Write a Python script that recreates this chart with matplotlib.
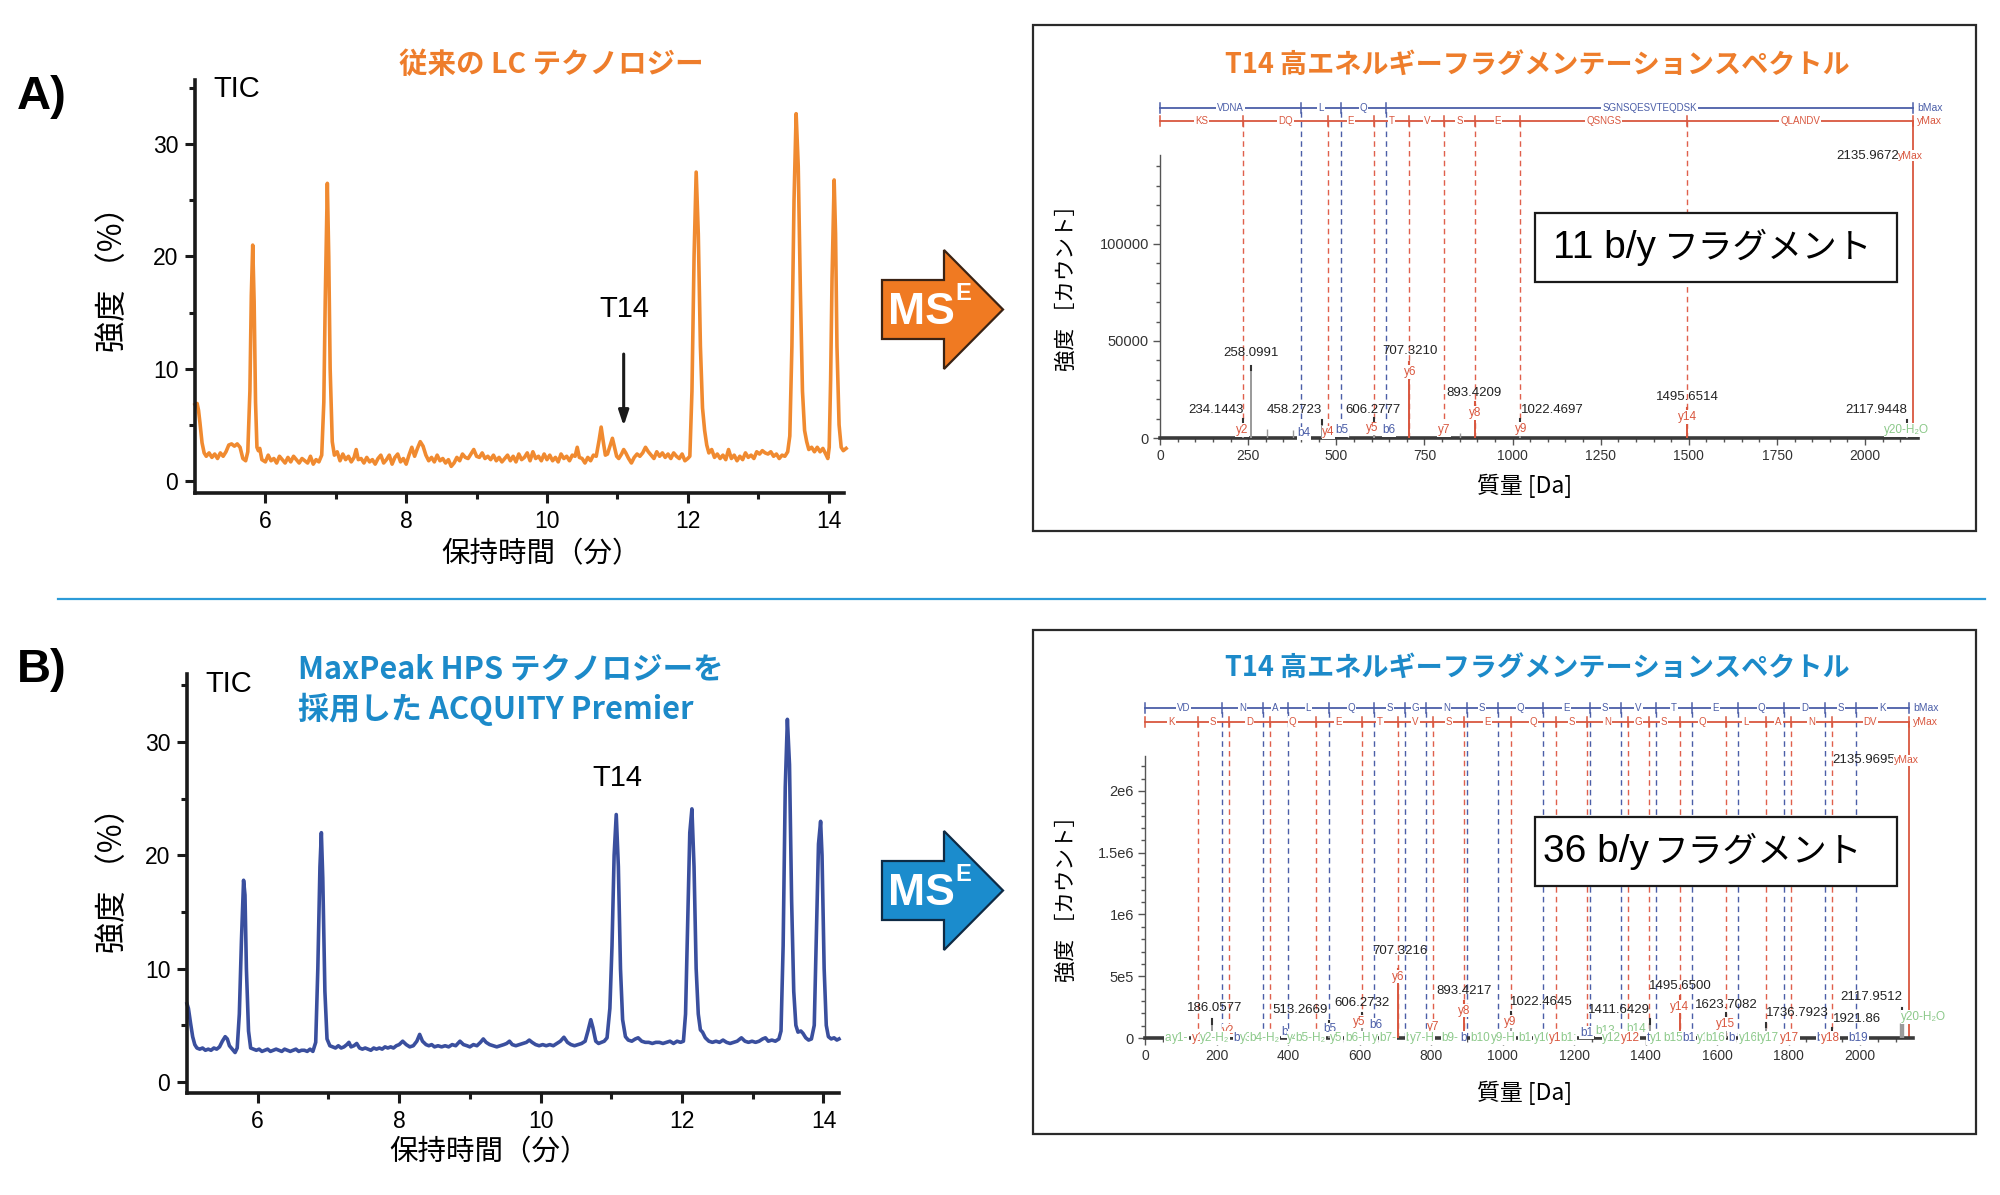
import matplotlib
matplotlib.use("Agg")
import matplotlib.pyplot as plt
from matplotlib.patches import Polygon, Rectangle
from matplotlib.lines import Line2D
from matplotlib.ticker import FixedLocator

SANS = 'Liberation Sans'
JP = 'Noto Sans CJK JP'
plt.rcParams['font.family'] = [SANS, JP, 'DejaVu Sans']

# ---------------- data: chromatograms (time [min], intensity [%]) ----------------
tA = [5.00, 5.03, 5.05, 5.07, 5.10, 5.13, 5.16, 5.20, 5.24, 5.28, 5.32, 5.36, 5.40, 5.44, 5.48, 5.52,
      5.56, 5.60, 5.64, 5.68, 5.72, 5.75, 5.78, 5.80, 5.82, 5.84, 5.86, 5.88, 5.90, 5.92, 5.95, 6.00,
      6.04, 6.08, 6.12, 6.16, 6.20, 6.24, 6.28, 6.32, 6.36, 6.40, 6.44, 6.48, 6.52, 6.56, 6.60, 6.64,
      6.68, 6.72, 6.76, 6.80, 6.83, 6.85, 6.88, 6.90, 6.92, 6.95, 6.98, 7.02, 7.06, 7.10, 7.14, 7.18,
      7.22, 7.26, 7.29, 7.32, 7.36, 7.40, 7.44, 7.48, 7.52, 7.56, 7.60, 7.64, 7.68, 7.72, 7.76, 7.80,
      7.84, 7.88, 7.92, 7.96, 8.00, 8.04, 8.08, 8.12, 8.16, 8.20, 8.24, 8.28, 8.32, 8.36, 8.40, 8.44,
      8.48, 8.52, 8.56, 8.60, 8.64, 8.68, 8.72, 8.76, 8.80, 8.84, 8.88, 8.92, 8.96, 9.00, 9.04, 9.08,
      9.12, 9.16, 9.20, 9.24, 9.28, 9.32, 9.36, 9.40, 9.44, 9.48, 9.52, 9.56, 9.60, 9.64, 9.68, 9.72,
      9.76, 9.80, 9.84, 9.88, 9.92, 9.96, 10.00, 10.04, 10.08, 10.12, 10.16, 10.20, 10.24, 10.28, 10.32, 10.36,
      10.40, 10.43, 10.46, 10.50, 10.54, 10.58, 10.62, 10.66, 10.70, 10.74, 10.77, 10.80, 10.83, 10.86, 10.90, 10.93,
      10.96, 10.99, 11.02, 11.06, 11.09, 11.12, 11.16, 11.20, 11.24, 11.28, 11.32, 11.36, 11.40, 11.44, 11.48, 11.52,
      11.56, 11.60, 11.64, 11.68, 11.72, 11.76, 11.80, 11.84, 11.88, 11.92, 11.96, 12.00, 12.03, 12.06, 12.09, 12.12,
      12.15, 12.18, 12.21, 12.24, 12.27, 12.30, 12.34, 12.38, 12.42, 12.46, 12.50, 12.54, 12.58, 12.62, 12.66, 12.70,
      12.74, 12.78, 12.82, 12.86, 12.90, 12.94, 12.98, 13.02, 13.06, 13.10, 13.14, 13.18, 13.22, 13.26, 13.30, 13.34,
      13.38, 13.42, 13.45, 13.48, 13.51, 13.54, 13.57, 13.60, 13.63, 13.66, 13.69, 13.72, 13.76, 13.80, 13.84, 13.88,
      13.92, 13.96, 13.99, 14.01, 14.03, 14.05, 14.08, 14.10, 14.12, 14.15, 14.18, 14.21, 14.25]
iA = [6.8, 6.9, 6.3, 5.2, 3.4, 2.5, 2.2, 2.5, 2.1, 2.4, 2.0, 2.5, 2.2, 2.6, 3.2, 3.3,
      3.1, 3.3, 3.0, 2.0, 1.8, 2.6, 8.0, 16.5, 21.0, 16.0, 7.0, 3.0, 2.7, 2.9, 1.9, 1.7,
      2.3, 1.8, 2.0, 1.6, 2.2, 1.9, 1.6, 2.1, 1.7, 2.2, 1.9, 1.6, 2.0, 1.8, 1.6, 2.2,
      1.5, 1.9, 1.7, 2.3, 7.0, 16.0, 26.5, 20.0, 10.0, 3.5, 2.3, 2.6, 1.8, 2.4, 1.9, 2.2,
      1.7, 2.1, 2.8, 1.9, 2.0, 1.6, 2.1, 1.7, 1.9, 1.5, 2.0, 2.3, 1.6, 1.9, 2.3, 1.5,
      2.1, 2.4, 1.7, 2.0, 1.5, 2.3, 3.0, 2.2, 2.9, 3.5, 3.1, 2.3, 1.8, 2.1, 1.7, 2.3,
      1.8, 2.0, 1.6, 1.9, 1.3, 1.6, 2.1, 1.8, 2.4, 2.1, 2.0, 2.4, 2.8, 2.2, 2.1, 2.5,
      2.0, 2.2, 1.9, 2.3, 1.8, 2.1, 1.7, 2.0, 2.3, 1.8, 2.2, 1.7, 2.4, 1.9, 2.1, 2.5,
      1.8, 2.6, 2.0, 2.2, 1.8, 2.4, 1.9, 2.3, 1.8, 2.1, 1.7, 2.4, 2.0, 2.2, 1.8, 2.3,
      2.2, 3.0, 2.1, 2.0, 1.6, 2.1, 1.8, 2.3, 2.2, 3.6, 4.8, 3.5, 2.3, 2.4, 3.2, 3.8,
      3.0, 2.2, 2.0, 2.4, 2.8, 2.5, 2.0, 1.6, 2.1, 2.4, 2.2, 2.5, 3.0, 2.6, 2.3, 2.0,
      2.6, 2.2, 2.5, 2.1, 2.4, 2.0, 2.5, 2.2, 2.0, 2.4, 1.8, 2.0, 2.2, 8.0, 20.0, 27.5,
      22.0, 12.0, 6.5, 4.5, 3.2, 2.5, 2.8, 2.1, 2.4, 2.0, 2.3, 1.9, 2.8, 2.0, 2.3, 1.8,
      2.2, 1.9, 2.5, 2.1, 2.3, 2.0, 2.6, 2.4, 2.7, 2.5, 2.4, 2.6, 2.2, 2.4, 2.0, 2.3,
      2.2, 2.6, 4.0, 12.0, 25.0, 32.7, 28.0, 17.0, 8.0, 4.5, 3.5, 2.8, 3.0, 2.6, 3.0, 2.6,
      2.9, 2.4, 2.0, 3.0, 9.0, 18.0, 26.8, 22.0, 12.0, 5.0, 3.0, 2.7, 2.9]

tB = [5.00, 5.02, 5.05, 5.08, 5.11, 5.14, 5.18, 5.22, 5.26, 5.30, 5.34, 5.38, 5.42, 5.46, 5.50, 5.54,
      5.57, 5.60, 5.64, 5.68, 5.71, 5.74, 5.77, 5.80, 5.82, 5.84, 5.87, 5.90, 5.94, 5.98, 6.02, 6.06,
      6.10, 6.14, 6.18, 6.22, 6.26, 6.30, 6.34, 6.38, 6.42, 6.46, 6.50, 6.54, 6.58, 6.62, 6.66, 6.70,
      6.74, 6.78, 6.82, 6.85, 6.88, 6.90, 6.92, 6.95, 6.98, 7.02, 7.06, 7.10, 7.14, 7.18, 7.22, 7.26,
      7.29, 7.32, 7.36, 7.40, 7.44, 7.48, 7.52, 7.56, 7.60, 7.64, 7.68, 7.72, 7.76, 7.80, 7.84, 7.88,
      7.92, 7.96, 8.00, 8.05, 8.10, 8.15, 8.20, 8.25, 8.29, 8.33, 8.38, 8.42, 8.46, 8.50, 8.55, 8.60,
      8.65, 8.70, 8.75, 8.80, 8.86, 8.91, 8.96, 9.00, 9.05, 9.10, 9.15, 9.19, 9.23, 9.28, 9.33, 9.38,
      9.43, 9.48, 9.52, 9.56, 9.60, 9.65, 9.70, 9.75, 9.80, 9.84, 9.88, 9.93, 9.98, 10.03, 10.08, 10.13,
      10.18, 10.23, 10.28, 10.33, 10.38, 10.43, 10.48, 10.53, 10.58, 10.63, 10.67, 10.71, 10.74, 10.78, 10.82, 10.86,
      10.90, 10.94, 10.98, 11.01, 11.04, 11.07, 11.10, 11.13, 11.16, 11.20, 11.24, 11.29, 11.34, 11.38, 11.43, 11.48,
      11.53, 11.58, 11.63, 11.68, 11.73, 11.78, 11.83, 11.88, 11.93, 11.98, 12.02, 12.05, 12.08, 12.11, 12.14, 12.17,
      12.20, 12.23, 12.26, 12.29, 12.33, 12.38, 12.43, 12.48, 12.53, 12.58, 12.63, 12.68, 12.73, 12.78, 12.84, 12.89,
      12.94, 12.99, 13.04, 13.09, 13.14, 13.18, 13.22, 13.27, 13.32, 13.37, 13.40, 13.43, 13.46, 13.49, 13.52, 13.55,
      13.58, 13.61, 13.64, 13.68, 13.71, 13.75, 13.79, 13.83, 13.87, 13.90, 13.93, 13.96, 13.98, 14.01, 14.04, 14.07,
      14.11, 14.15, 14.19, 14.22]
iB = [6.9, 6.5, 5.2, 4.0, 3.3, 3.0, 2.9, 3.0, 2.8, 2.9, 2.8, 3.0, 2.9, 3.1, 3.6, 4.0,
      3.8, 3.2, 2.9, 2.6, 3.0, 6.0, 12.5, 17.8, 16.5, 10.0, 4.5, 3.0, 2.9, 2.8, 2.9, 2.7,
      2.8, 2.9, 2.7, 2.8, 2.9, 2.8, 2.7, 2.9, 2.8, 2.7, 2.8, 2.9, 2.7, 2.8, 2.8, 2.7,
      2.9, 2.7, 3.5, 10.0, 19.0, 22.0, 18.0, 8.0, 3.8, 3.2, 3.1, 3.0, 3.2, 3.0, 3.1, 3.3,
      3.5, 3.1, 3.2, 3.4, 3.0, 2.9, 3.0, 2.9, 2.8, 3.0, 2.9, 3.0, 2.9, 3.1, 3.0, 3.1,
      3.0, 3.2, 3.3, 3.6, 3.3, 3.1, 3.2, 3.6, 4.2, 3.6, 3.3, 3.2, 3.3, 3.1, 3.2, 3.1,
      3.2, 3.1, 3.3, 3.2, 3.6, 3.3, 3.2, 3.1, 3.3, 3.2, 3.5, 3.8, 3.5, 3.3, 3.2, 3.1,
      3.2, 3.3, 3.4, 3.6, 3.3, 3.2, 3.3, 3.4, 3.5, 3.7, 3.5, 3.3, 3.2, 3.3, 3.2, 3.3,
      3.2, 3.4, 3.6, 3.95, 3.5, 3.3, 3.2, 3.3, 3.4, 3.6, 4.5, 5.5, 4.8, 3.6, 3.4, 3.5,
      3.6, 3.9, 6.5, 12.0, 20.0, 23.6, 19.0, 10.0, 5.5, 4.0, 3.7, 3.6, 3.8, 3.9, 3.6, 3.5,
      3.5, 3.4, 3.5, 3.5, 3.4, 3.5, 3.6, 3.4, 3.6, 3.5, 3.6, 6.0, 14.0, 22.0, 24.1, 19.0,
      10.0, 6.0, 4.6, 4.4, 3.9, 3.6, 3.5, 3.6, 3.5, 3.7, 3.5, 3.4, 3.5, 3.6, 3.9, 3.6,
      3.5, 3.6, 3.5, 3.6, 3.8, 3.9, 3.6, 3.7, 3.6, 3.8, 4.5, 12.0, 26.0, 32.0, 28.0, 16.0,
      8.0, 5.0, 4.4, 4.5, 4.3, 3.9, 3.7, 3.8, 5.0, 13.0, 21.0, 23.0, 20.0, 10.0, 5.0, 4.0,
      3.8, 3.9, 3.7, 3.8]

CHROM_XTICKS = [6, 8, 10, 12, 14]
CHROM_YTICKS = [0, 10, 20, 30]
T14_TIME = 11.09

# ---------------- data: fragment spectra ----------------
MH = 2135.97
A_B_IONS = [400.18, 513.27, 641.33]
A_Y_IONS = [234.14, 477.23, 606.27, 707.32, 806.39, 893.42, 1022.46, 1495.65]
A_B_SEG = ['VDNA', 'L', 'Q', 'SGNSQESVTEQDSK']
A_Y_SEG = ['KS', 'DQ', 'E', 'T', 'V', 'S', 'E', 'QSNGS', 'QLANDV']
A_PEAK_MZ = [234.1443, 258.0991, 458.2723, 606.2777, 707.3210, 893.4209, 1022.4697, 1495.6514, 2117.9448]
A_PEAK_INT = [10000, 37000, 9500, 10500, 39000, 18500, 10000, 15500, 9500]
A_PEAK_RED = [False, False, False, False, True, True, False, True, False]
A_PEAK_TXT = ['234.1443', '258.0991', '458.2723', '606.2777', '707.3210', '893.4209', '1022.4697', '1495.6514', '2117.9448']
A_MINOR_MZ = [303, 377, 533, 851]
A_MINOR_INT = [4600, 4100, 2500, 2500]
A_MH_TXT = '2135.9672'

B_B_IONS = [215.10, 329.15, 400.18, 513.27, 641.33, 728.36, 785.38, 899.42, 986.46, 1114.51,
            1243.56, 1330.59, 1429.66, 1530.70, 1659.75, 1787.81, 1902.84, 1989.87]
B_Y_IONS = [147.11, 234.14, 349.17, 477.23, 606.27, 707.32, 806.39, 893.42, 1022.46, 1150.52,
            1237.55, 1351.60, 1408.62, 1495.65, 1623.71, 1736.79, 1807.83, 1921.87]
B_B_SEG = ['VD', 'N', 'A', 'L', 'Q', 'S', 'G', 'N', 'S', 'Q', 'E', 'S', 'V', 'T', 'E', 'Q', 'D', 'S', 'K']
B_Y_SEG = ['K', 'S', 'D', 'Q', 'E', 'T', 'V', 'S', 'E', 'Q', 'S', 'N', 'G', 'S', 'Q', 'L', 'A', 'N', 'DV']
B_PEAK_MZ = [186.0577, 513.2669, 606.2732, 707.3216, 893.4217, 1022.4645, 1411.6429, 1495.6500,
             1623.7082, 1736.7923, 1921.86, 2117.9512]
B_PEAK_INT = [150000, 140000, 200000, 560000, 300000, 210000, 150000, 340000, 200000, 120000, 80000, 240000]
B_PEAK_RED = [False, False, False, True, True, False, False, True, False, False, False, False]
B_PEAK_TXT = ['186.0577', '513.2669', '606.2732', '707.3216', '893.4217', '1022.4645', '1411.6429',
              '1495.6500', '1623.7082', '1736.7923', '1921.86', '2117.9512']
B_MINOR_MZ = [2112, 2121]
B_MINOR_INT = [120000, 120000]
B_MH_TXT = '2135.9695'

# ---------------- layout helpers ----------------
W, H = 2000, 1195
fig = plt.figure(figsize=(W / 100, H / 100), dpi=100)
fig.patch.set_facecolor('white')

ORANGE_T = '#EE7D2B'
BLUE_T = '#1C8AC9'
LINE_OR = '#F08A30'
LINE_BL = '#3A4F9E'
RED = '#D9573F'
RED_D = '#E0604C'
BLU = '#4B5EA8'
GREEN = '#8CC98A'
DARK = '#1a1a1a'


def rect(l, t, r, b):
    return [l / W, 1 - b / H, (r - l) / W, (b - t) / H]


def fpos(x, y):
    return (x / W, 1 - y / H)


def ftext(x, y, s, **kw):
    return fig.text(x / W, 1 - y / H, s, **kw)


# ---------------- chromatograms ----------------
def chrom(box, t, v, color, xlim, ylim):
    ax = fig.add_axes(rect(*box))
    ax.plot(t, v, color=color, lw=2.6, solid_joinstyle='round', clip_on=False)
    ax.set_xlim(*xlim)
    ax.set_ylim(*ylim)
    ax.patch.set_alpha(0)
    for s in ['top', 'right']:
        ax.spines[s].set_visible(False)
    for s in ['left', 'bottom']:
        ax.spines[s].set_linewidth(2.6)
        ax.spines[s].set_color(DARK)
    ax.set_xticks(CHROM_XTICKS)
    ax.set_xticks([7, 9, 11, 13], minor=True)
    ax.set_yticks(CHROM_YTICKS)
    ax.set_yticks([5, 15, 25, 35], minor=True)
    ax.tick_params(which='major', length=7, width=2.2, labelsize=16.5, pad=5, color=DARK)
    ax.tick_params(which='minor', length=4, width=2.2, color=DARK)
    return ax


axA = chrom((195, 80, 844, 493), tA, iA, LINE_OR, (5, 14.22), (-1.07, 35.7))
axB = chrom((187, 674, 839, 1093), tB, iB, LINE_BL, (5, 14.22), (-0.97, 36.0))

axA.annotate('', xy=(T14_TIME, 4.9), xytext=(T14_TIME, 11.3),
             arrowprops=dict(arrowstyle='-|>,head_width=0.3,head_length=0.9', color=DARK, lw=2.2,
                             shrinkA=0, shrinkB=0))

ftext(17, 97, 'A)', fontsize=34, fontweight='bold', ha='left', va='center', family=SANS)
ftext(17, 670, 'B)', fontsize=34, fontweight='bold', ha='left', va='center', family=SANS)
ftext(213, 89, 'TIC', fontsize=21, ha='left', va='center')
ftext(205, 684, 'TIC', fontsize=21, ha='left', va='center')
ftext(624, 309, 'T14', fontsize=21, ha='center', va='center')
ftext(617, 778, 'T14', fontsize=21, ha='center', va='center')

ftext(551, 65, '従来の LC テクノロジー', fontsize=20.5, fontweight='bold', color=ORANGE_T,
      ha='center', va='center', family=[JP])
ftext(298, 670, 'MaxPeak HPS テクノロジーを', fontsize=22, fontweight='bold', color=BLUE_T,
      ha='left', va='center', family=[JP])
ftext(298, 709, '採用した ACQUITY Premier', fontsize=22.3, fontweight='bold', color=BLUE_T,
      ha='left', va='center', family=[JP])

ftext(113, 272, '強度 （%）', fontsize=22.5, rotation=90, ha='center', va='center', family=[JP])
ftext(113, 873, '強度 （%）', fontsize=22.5, rotation=90, ha='center', va='center', family=[JP])
ftext(541, 554, '保持時間（分）', fontsize=20.5, ha='center', va='center', family=[JP])
ftext(489, 1152, '保持時間（分）', fontsize=20.5, ha='center', va='center', family=[JP])

# separator line
fig.add_artist(Line2D([58 / W, 1985 / W], [1 - 599 / H, 1 - 599 / H], color='#2C9BD8', lw=1.6))


# big MSE arrows
def big_arrow(dy, fc, ec):
    pts = [(882, 280), (944, 280), (944, 250), (1003, 309.5), (944, 369), (944, 339), (882, 339)]
    pts = [fpos(x, y + dy) for x, y in pts]
    fig.add_artist(Polygon(pts, closed=True, transform=fig.transFigure, fc=fc, ec=ec, lw=1.6))
    ftext(888, 324 + dy, 'MS', color='white', fontsize=32, fontweight='bold', ha='left',
          va='baseline', family=SANS)
    ftext(955, 300 + dy, 'E', color='white', fontsize=17, fontweight='bold', ha='left',
          va='baseline', family=SANS)


big_arrow(0, '#F07A22', '#3B2314')
big_arrow(581, '#1B8CCD', '#0E2A44')

# spectrum frames
for top, bot in [(25, 531), (630, 1134)]:
    fig.add_artist(Rectangle(fpos(1033, bot), (1976 - 1033) / W, (bot - top) / H, fill=False,
                             ec='#2a2a2a', lw=1.6, transform=fig.transFigure))

ftext(1537, 65, 'T14 高エネルギーフラグメンテーションスペクトル', fontsize=19.5, fontweight='bold',
      color=ORANGE_T, ha='center', va='center', family=[JP])
ftext(1537, 668, 'T14 高エネルギーフラグメンテーションスペクトル', fontsize=19.5, fontweight='bold',
      color=BLUE_T, ha='center', va='center', family=[JP])


def spectrum(box, xmax, ytop, spine_top, ymajor, ylabels, yminor, xmajor, xminor,
             b_ions, y_ions, b_seg, y_seg, yb, yy,
             pk_mz, pk_int, pk_red, pk_txt, mz_pos, minor_mz, minor_int,
             ion_lab, base_lab, mh_txt, mh_y):
    ax = fig.add_axes(rect(*box))
    ax.set_xlim(0, xmax)
    ax.set_ylim(0, ytop)
    ax.patch.set_alpha(0)
    for s in ['top', 'right']:
        ax.spines[s].set_visible(False)
    ax.spines['left'].set_bounds(0, spine_top)
    ax.spines['left'].set_color('#555555')
    ax.spines['left'].set_linewidth(1.0)
    ax.spines['bottom'].set_color('#3a3a3a')
    ax.spines['bottom'].set_linewidth(2.6)
    ax.set_yticks(ymajor)
    ax.set_yticklabels(ylabels)
    ax.yaxis.set_minor_locator(FixedLocator(yminor))
    ax.set_xticks(xmajor)
    ax.xaxis.set_minor_locator(FixedLocator(xminor))
    ax.tick_params(axis='y', which='major', labelsize=10.5)
    ax.tick_params(axis='x', which='major', labelsize=10)
    ax.tick_params(which='major', length=5, width=1, color='#555555',
                   labelcolor='#333333', pad=3)
    ax.tick_params(which='minor', length=3, width=1, color='#555555')
    xt = ax.get_xaxis_transform()
    for m in b_ions:
        ax.plot([m, m], [0, yb], transform=xt, color=BLU, lw=1.0, ls=(0, (4, 3)), zorder=1)
    for m in y_ions:
        ax.plot([m, m], [0, yy], transform=xt, color=RED_D, lw=1.0, ls=(0, (4, 3)), zorder=1)
    ax.plot([MH, MH], [0, yy], transform=xt, color=RED, lw=1.3, zorder=2)
    for ions, segs, yl, col, tag in [(b_ions, b_seg, yb, BLU, 'bMax'), (y_ions, y_seg, yy, RED, 'yMax')]:
        bounds = [0] + list(ions) + [MH]
        ax.plot([0, MH], [yl, yl], transform=xt, color=col, lw=1.3, zorder=2, clip_on=False)
        for bx in bounds:
            ax.plot([bx, bx], [yl - 0.014, yl + 0.014], transform=xt, color=col, lw=1.1,
                    zorder=2, clip_on=False)
        for a, b, s in zip(bounds[:-1], bounds[1:], segs):
            ax.text((a + b) / 2, yl, s, transform=xt, ha='center', va='center', fontsize=7,
                    color=col, zorder=3,
                    bbox=dict(boxstyle='square,pad=0.1', fc='white', ec='none'))
        ax.text(MH + 12, yl, tag, transform=xt, ha='left', va='center', fontsize=7.5,
                color=col, clip_on=False)
    ax.vlines(minor_mz, 0, minor_int, colors='#9a9a9a', lw=1.0, zorder=3)
    for m, h, r in zip(pk_mz, pk_int, pk_red):
        ax.plot([m, m], [0, h], color=RED if r else '#9a9a9a', lw=1.4, zorder=3)
        ax.plot([m, m], [h - 0.012 * ytop, h], color=RED if r else '#333333', lw=1.5, zorder=3)
    for txt, (x, y, ha) in zip(pk_txt, mz_pos):
        ax.text(x, y, txt, ha=ha, va='center', fontsize=9.5, color='#222222', zorder=5)
    for txt, x, y, col in ion_lab:
        ax.text(x, y, txt, ha='center', va='center', fontsize=8.5, color=col, zorder=6,
                bbox=dict(boxstyle='square,pad=0.05', fc='white', ec='none'))
    for txt, x, col in base_lab:
        ax.text(x, 0, txt, ha='center', va='center', fontsize=8.5, color=col, zorder=6,
                bbox=dict(boxstyle='square,pad=0.05', fc='white', ec='none'), clip_on=False)
    ax.text(2097, mh_y, mh_txt, ha='right', va='center', fontsize=9.5, color='#222222', zorder=5)
    ax.text(2094, mh_y, 'yMax', ha='left', va='center', fontsize=7.5, color=RED, zorder=6,
            bbox=dict(boxstyle='square,pad=0.05', fc='white', ec='none'))
    return ax


A_MZ_POS = [(236, 14400, 'right'), (258, 43800, 'center'), (460, 14400, 'right'), (605, 14400, 'center'),
            (710, 44800, 'center'), (891, 23200, 'center'), (1024, 14400, 'left'), (1495, 21100, 'center'),
            (2120, 14400, 'right')]
A_ION_LAB = [('y2', 233, 4100, RED), ('b4', 408, 2400, BLU), ('y4', 478, 3000, RED), ('b5', 516, 4100, BLU),
             ('y5', 603, 5000, RED), ('b6', 649, 4100, BLU), ('y6', 709, 34000, RED), ('y7', 806, 4100, RED),
             ('y8', 893, 12900, RED), ('y9', 1024, 4600, RED), ('y14', 1496, 10800, RED),
             ('y20-H₂O', 2118, 4100, GREEN)]

spectrum((1160, 95, 1918, 438), 2150, 176800, 146000,
         [0, 50000, 100000], ['0', '50000', '100000'], list(range(10000, 146000, 10000)),
         list(range(0, 2001, 250)), list(range(50, 2150, 50)),
         A_B_IONS, A_Y_IONS, A_B_SEG, A_Y_SEG, 0.962, 0.924,
         A_PEAK_MZ, A_PEAK_INT, A_PEAK_RED, A_PEAK_TXT, A_MZ_POS, A_MINOR_MZ, A_MINOR_INT,
         A_ION_LAB, [], A_MH_TXT, 145400)

B_MZ_POS = [(194, 240000, 'center'), (510, 227000, 'right'), (607, 283000, 'center'), (713, 707000, 'center'),
            (892, 383000, 'center'), (1021, 294000, 'left'), (1413, 227000, 'right'), (1497, 421000, 'center'),
            (1625, 267000, 'center'), (1738, 200000, 'left'), (1925, 154000, 'left'), (2118, 330000, 'right')]
B_ION_LAB = [('y2', 233, 59000, RED), ('b', 390, 51000, BLU), ('b5', 517, 70000, BLU), ('y5', 598, 132000, RED),
             ('b6', 645, 105000, BLU), ('y6', 709, 496000, RED), ('y7', 807, 91000, RED),
             ('y8', 893, 221000, RED), ('y9', 1021, 132000, RED), ('b1', 1235, 43000, BLU),
             ('b13', 1287, 60000, GREEN), ('b14', 1375, 70000, GREEN), ('y14', 1495, 253000, RED),
             ('y15', 1625, 113000, RED), ('y20-H₂O', 2178, 170000, GREEN)]
B_BASE_LAB = [('a', 63, GREEN), ('y1-', 98, GREEN), ('y1', 149, RED), ('y2-H₂', 196, GREEN), ('b', 256, BLU),
              ('y3-', 289, GREEN), ('b4-H₂', 335, GREEN), ('y4', 415, GREEN), ('b5-H₂', 462, GREEN),
              ('y5', 536, GREEN), ('b6-H', 595, GREEN), ('y', 643, GREEN), ('b7-', 680, GREEN),
              ('b', 737, GREEN), ('y7-H', 775, GREEN), ('b9-', 853, GREEN), ('b', 890, BLU),
              ('b10', 937, GREEN), ('y9-H', 1002, GREEN), ('b1', 1063, GREEN), ('y10', 1114, GREEN),
              ('y1', 1147, RED), ('b1:', 1184, GREEN), ('y12', 1306, GREEN), ('y12', 1357, RED),
              ('t', 1408, BLU), ('y1', 1431, GREEN), ('b15', 1477, GREEN), ('b1', 1522, BLU),
              ('y1', 1562, GREEN), ('b16', 1595, GREEN), ('b', 1641, BLU), ('y16', 1687, GREEN),
              ('b', 1720, GREEN), ('y17', 1748, GREEN), ('y17', 1804, RED), ('b', 1887, BLU),
              ('y18', 1916, RED), ('b19', 1995, BLU)]

spectrum((1145, 695, 1913, 1038), 2148, 2.777e6, 2.28e6,
         [0, 5e5, 1e6, 1.5e6, 2e6], ['0', '5e5', '1e6', '1.5e6', '2e6'],
         [v * 1e5 for v in range(1, 23) if v % 5],
         list(range(0, 2001, 200)), list(range(50, 2148, 50)),
         B_B_IONS, B_Y_IONS, B_B_SEG, B_Y_SEG, 0.962, 0.921,
         B_PEAK_MZ, B_PEAK_INT, B_PEAK_RED, B_PEAK_TXT, B_MZ_POS, B_MINOR_MZ, B_MINOR_INT,
         B_ION_LAB, B_BASE_LAB, B_MH_TXT, 2.25e6)

ftext(1067, 283, '強度 ［カウント］', fontsize=15.5, rotation=90, ha='center', va='center', family=[JP])
ftext(1067, 894, '強度 ［カウント］', fontsize=15.5, rotation=90, ha='center', va='center', family=[JP])
ftext(1525, 486, '質量 [Da]', fontsize=16.5, ha='center', va='center', family=[JP])
ftext(1525, 1093, '質量 [Da]', fontsize=16.5, ha='center', va='center', family=[JP])

# fragment count boxes
for top, bot, num, tx, kx in [(213, 282, '11 b/y', 1553, 1664), (817, 886, '36 b/y', 1543, 1654)]:
    fig.add_artist(Rectangle(fpos(1535, bot), (1897 - 1535) / W, (bot - top) / H, fc='white',
                             ec='#1a1a1a', lw=1.6, transform=fig.transFigure, zorder=4))
    ftext(tx, (top + bot) / 2 + 1, num, fontsize=28, ha='left', va='center', family=SANS, zorder=5)
    ftext(kx, (top + bot) / 2 + 1, 'フラグメント', fontsize=25, ha='left', va='center',
          family=[JP], zorder=5)

fig.savefig('out.png', dpi=100, facecolor='white')
